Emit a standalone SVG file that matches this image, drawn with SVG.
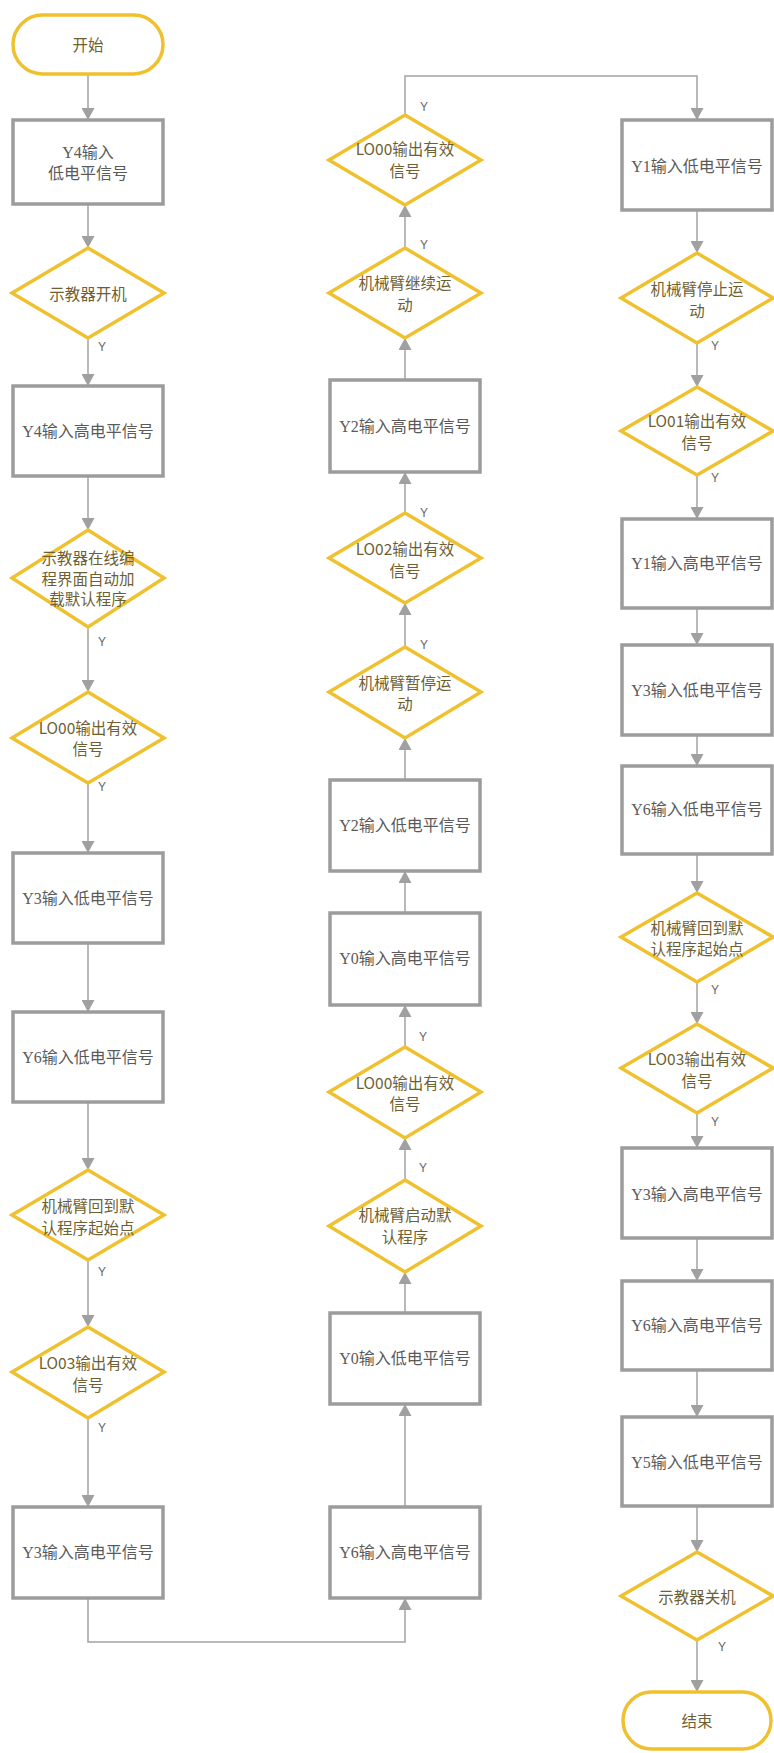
<svg xmlns="http://www.w3.org/2000/svg" width="774" height="1753" viewBox="0 0 774 1753">
<style>
.box{fill:#fff;stroke:#9c9c9c;stroke-width:3.5}
.dia{fill:#fff;stroke:#efc12e;stroke-width:3.5;stroke-linejoin:miter}
.term{fill:#fff;stroke:#efc12e;stroke-width:3.5}
.bt{font-family:"Liberation Serif","Noto Sans CJK SC",serif;font-size:16px;fill:#5a5a5a;text-anchor:middle;dominant-baseline:central}
.dt{font-family:"Noto Sans CJK SC",sans-serif;font-size:15.5px;fill:#6e5f32;text-anchor:middle;dominant-baseline:central}
.yl{font-family:"Liberation Sans","Noto Sans",sans-serif;font-size:12px;fill:#666;text-anchor:middle;dominant-baseline:central}
.cn{fill:none;stroke:#a3a3a3;stroke-width:1.5}
</style>
<defs>
<marker id="ah" markerUnits="userSpaceOnUse" markerWidth="13" markerHeight="13" refX="12" refY="6.5" orient="auto">
<path d="M0,0 L12,6.5 L0,13 z" fill="#a0a0a0"/>
</marker>
</defs>
<rect width="774" height="1753" fill="#fff"/>

<g id="connectors">
<!-- column 1 -->
<path class="cn" marker-end="url(#ah)" d="M88,74 V120"/>
<path class="cn" marker-end="url(#ah)" d="M88,204 V248"/>
<path class="cn" marker-end="url(#ah)" d="M88,338 V386"/>
<path class="cn" marker-end="url(#ah)" d="M88,476 V530"/>
<path class="cn" marker-end="url(#ah)" d="M88,627 V692"/>
<path class="cn" marker-end="url(#ah)" d="M88,783 V853"/>
<path class="cn" marker-end="url(#ah)" d="M88,943 V1012"/>
<path class="cn" marker-end="url(#ah)" d="M88,1102 V1170"/>
<path class="cn" marker-end="url(#ah)" d="M88,1260 V1327"/>
<path class="cn" marker-end="url(#ah)" d="M88,1418 V1507"/>
<path class="cn" marker-end="url(#ah)" d="M88,1598 V1642 H405 V1598"/>
<!-- column 2 -->
<path class="cn" marker-end="url(#ah)" d="M405,1507 V1404"/>
<path class="cn" marker-end="url(#ah)" d="M405,1313 V1272"/>
<path class="cn" marker-end="url(#ah)" d="M405,1180 V1138"/>
<path class="cn" marker-end="url(#ah)" d="M405,1047 V1005"/>
<path class="cn" marker-end="url(#ah)" d="M405,913 V871"/>
<path class="cn" marker-end="url(#ah)" d="M405,780 V738"/>
<path class="cn" marker-end="url(#ah)" d="M405,647 V603"/>
<path class="cn" marker-end="url(#ah)" d="M405,513 V472"/>
<path class="cn" marker-end="url(#ah)" d="M405,380 V338"/>
<path class="cn" marker-end="url(#ah)" d="M405,248 V205"/>
<path class="cn" marker-end="url(#ah)" d="M405,115 V76 H697 V120"/>
<!-- column 3 -->
<path class="cn" marker-end="url(#ah)" d="M697,210 V253"/>
<path class="cn" marker-end="url(#ah)" d="M697,343 V387"/>
<path class="cn" marker-end="url(#ah)" d="M697,475 V519"/>
<path class="cn" marker-end="url(#ah)" d="M697,608 V645"/>
<path class="cn" marker-end="url(#ah)" d="M697,735 V766"/>
<path class="cn" marker-end="url(#ah)" d="M697,854 V893"/>
<path class="cn" marker-end="url(#ah)" d="M697,982 V1024"/>
<path class="cn" marker-end="url(#ah)" d="M697,1113 V1148"/>
<path class="cn" marker-end="url(#ah)" d="M697,1238 V1281"/>
<path class="cn" marker-end="url(#ah)" d="M697,1370 V1417"/>
<path class="cn" marker-end="url(#ah)" d="M697,1506 V1552"/>
<path class="cn" marker-end="url(#ah)" d="M697,1640 V1692"/>
<!-- Y labels -->
<text class="yl" x="102" y="347">Y</text>
<text class="yl" x="102" y="642">Y</text>
<text class="yl" x="102" y="787">Y</text>
<text class="yl" x="102" y="1272">Y</text>
<text class="yl" x="102" y="1428">Y</text>
<text class="yl" x="423" y="1168">Y</text>
<text class="yl" x="423" y="1037">Y</text>
<text class="yl" x="424" y="645">Y</text>
<text class="yl" x="424" y="513">Y</text>
<text class="yl" x="424" y="245">Y</text>
<text class="yl" x="424" y="107">Y</text>
<text class="yl" x="715" y="346">Y</text>
<text class="yl" x="715" y="478">Y</text>
<text class="yl" x="715" y="990">Y</text>
<text class="yl" x="715" y="1122">Y</text>
<text class="yl" x="722" y="1647">Y</text>
</g>

<!-- Column 1 -->
<g id="start"><rect class="term" x="13" y="15" width="150" height="59" rx="29.5"/><text class="dt" x="88" y="44">开始</text></g>
<g id="c1b1"><rect class="box" x="13" y="120" width="150" height="84"/><text class="bt" x="88" y="152">Y4输入</text><text class="bt" x="88" y="173">低电平信号</text></g>
<g id="c1d1"><polygon class="dia" points="88,248 164,293 88,338 12,293"/><text class="dt" x="88" y="293">示教器开机</text></g>
<g id="c1b2"><rect class="box" x="13" y="386" width="150" height="90"/><text class="bt" x="88" y="431">Y4输入高电平信号</text></g>
<g id="c1d2"><polygon class="dia" points="88,530 164,578 88,627 12,578"/><text class="dt" x="88" y="557">示教器在线编</text><text class="dt" x="88" y="578">程界面自动加</text><text class="dt" x="88" y="598">载默认程序</text></g>
<g id="c1d3"><polygon class="dia" points="88,692 164,738 88,783 12,738"/><text class="dt" x="88" y="727">LO00输出有效</text><text class="dt" x="88" y="748">信号</text></g>
<g id="c1b3"><rect class="box" x="13" y="853" width="150" height="90"/><text class="bt" x="88" y="898">Y3输入低电平信号</text></g>
<g id="c1b4"><rect class="box" x="13" y="1012" width="150" height="90"/><text class="bt" x="88" y="1057">Y6输入低电平信号</text></g>
<g id="c1d4"><polygon class="dia" points="88,1170 164,1215 88,1260 12,1215"/><text class="dt" x="88" y="1205">机械臂回到默</text><text class="dt" x="88" y="1227">认程序起始点</text></g>
<g id="c1d5"><polygon class="dia" points="88,1327 164,1372 88,1418 12,1372"/><text class="dt" x="88" y="1362">LO03输出有效</text><text class="dt" x="88" y="1384">信号</text></g>
<g id="c1b5"><rect class="box" x="13" y="1507" width="150" height="91"/><text class="bt" x="88" y="1552">Y3输入高电平信号</text></g>

<!-- Column 2 -->
<g id="c2b1"><rect class="box" x="330" y="1507" width="150" height="91"/><text class="bt" x="405" y="1552">Y6输入高电平信号</text></g>
<g id="c2b2"><rect class="box" x="330" y="1313" width="150" height="91"/><text class="bt" x="405" y="1358">Y0输入低电平信号</text></g>
<g id="c2d1"><polygon class="dia" points="405,1180 481,1226 405,1272 329,1226"/><text class="dt" x="405" y="1214">机械臂启动默</text><text class="dt" x="405" y="1236">认程序</text></g>
<g id="c2d2"><polygon class="dia" points="405,1047 481,1092 405,1138 329,1092"/><text class="dt" x="405" y="1082">LO00输出有效</text><text class="dt" x="405" y="1103">信号</text></g>
<g id="c2b3"><rect class="box" x="330" y="913" width="150" height="92"/><text class="bt" x="405" y="958">Y0输入高电平信号</text></g>
<g id="c2b4"><rect class="box" x="330" y="780" width="150" height="91"/><text class="bt" x="405" y="825">Y2输入低电平信号</text></g>
<g id="c2d3"><polygon class="dia" points="405,647 481,692 405,738 329,692"/><text class="dt" x="405" y="682">机械臂暂停运</text><text class="dt" x="405" y="703">动</text></g>
<g id="c2d4"><polygon class="dia" points="405,513 481,558 405,603 329,558"/><text class="dt" x="405" y="548">LO02输出有效</text><text class="dt" x="405" y="570">信号</text></g>
<g id="c2b5"><rect class="box" x="330" y="380" width="150" height="92"/><text class="bt" x="405" y="426">Y2输入高电平信号</text></g>
<g id="c2d5"><polygon class="dia" points="405,248 481,293 405,338 329,293"/><text class="dt" x="405" y="282">机械臂继续运</text><text class="dt" x="405" y="304">动</text></g>
<g id="c2d6"><polygon class="dia" points="405,115 481,160 405,205 329,160"/><text class="dt" x="405" y="148">LO00输出有效</text><text class="dt" x="405" y="170">信号</text></g>

<!-- Column 3 -->
<g id="c3b1"><rect class="box" x="622" y="120" width="150" height="90"/><text class="bt" x="697" y="166">Y1输入低电平信号</text></g>
<g id="c3d1"><polygon class="dia" points="697,253 773,298 697,343 621,298"/><text class="dt" x="697" y="288">机械臂停止运</text><text class="dt" x="697" y="310">动</text></g>
<g id="c3d2"><polygon class="dia" points="697,387 773,431 697,475 621,431"/><text class="dt" x="697" y="420">LO01输出有效</text><text class="dt" x="697" y="442">信号</text></g>
<g id="c3b2"><rect class="box" x="622" y="519" width="150" height="89"/><text class="bt" x="697" y="563">Y1输入高电平信号</text></g>
<g id="c3b3"><rect class="box" x="622" y="645" width="150" height="90"/><text class="bt" x="697" y="690">Y3输入低电平信号</text></g>
<g id="c3b4"><rect class="box" x="622" y="766" width="150" height="88"/><text class="bt" x="697" y="809">Y6输入低电平信号</text></g>
<g id="c3d3"><polygon class="dia" points="697,893 773,937 697,982 621,937"/><text class="dt" x="697" y="927">机械臂回到默</text><text class="dt" x="697" y="948">认程序起始点</text></g>
<g id="c3d4"><polygon class="dia" points="697,1024 773,1068 697,1113 621,1068"/><text class="dt" x="697" y="1058">LO03输出有效</text><text class="dt" x="697" y="1080">信号</text></g>
<g id="c3b5"><rect class="box" x="622" y="1148" width="150" height="90"/><text class="bt" x="697" y="1194">Y3输入高电平信号</text></g>
<g id="c3b6"><rect class="box" x="622" y="1281" width="150" height="89"/><text class="bt" x="697" y="1325">Y6输入高电平信号</text></g>
<g id="c3b7"><rect class="box" x="622" y="1417" width="150" height="89"/><text class="bt" x="697" y="1462">Y5输入低电平信号</text></g>
<g id="c3d5"><polygon class="dia" points="697,1552 773,1596 697,1640 621,1596"/><text class="dt" x="697" y="1596">示教器关机</text></g>
<g id="end"><rect class="term" x="623" y="1692" width="148" height="57" rx="28.5"/><text class="dt" x="697" y="1720">结束</text></g>
</svg>
